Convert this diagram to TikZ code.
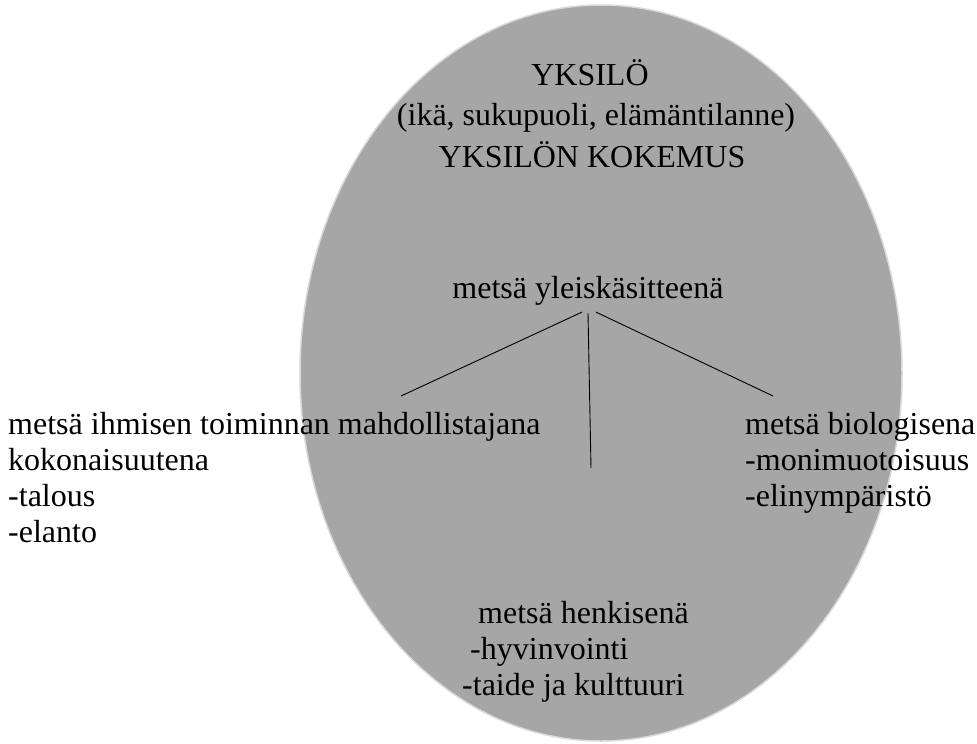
\documentclass[tikz,border=0pt]{standalone}
\usepackage{fontspec}
\setmainfont{Liberation Serif}
\usetikzlibrary{positioning}
\definecolor{ovalgray}{HTML}{A6A6A6}
\definecolor{ovalrim}{HTML}{D9D9D9}

\begin{document}
\begin{tikzpicture}[x=1pt, y=-1pt,
		txt/.style={inner sep=0pt, font=\fontsize{32}{35.7}\selectfont},
		blk/.style={txt, align=left, anchor=base west}]
			\useasboundingbox (0,0) rectangle (977,744);
			\filldraw [fill=ovalgray, draw=ovalrim, line width=1.5pt]
				(601,373) ellipse [x radius=301, y radius=368];
			% yksilo
			\node (yksilo) [txt, anchor=base] at (590,85) {YKSILÖ};
			\node (tausta) [txt, anchor=base] at (596,125) {(ikä, sukupuoli, elämäntilanne)};
			\node (kokemus) [txt, anchor=base] at (592,167) {YKSILÖN KOKEMUS};
			% metsa (base = last line)
			\node (yleis) [txt, anchor=base] at (588,298) {metsä yleiskäsitteenä};
			\node (ihminen) [blk] at (8,542) {metsä ihmisen toiminnan mahdollistajana\\kokonaisuutena\\-talous\\-elanto};
			\node (bio) [blk] at (745,506) {metsä biologisena\\-monimuotoisuus\\-elinympäristö};
			\node (henki) [blk] at (462,695) {\hspace*{16pt}metsä henkisenä\\\hspace*{8pt}-hyvinvointi\\-taide ja kulttuuri};
			\coordinate (ihmEnd) at (401,396);
			\coordinate (bioEnd) at (773,396);
			\coordinate (henkEnd) at (591,468);
			\draw [line width=0.9pt] ([xshift=-6pt, yshift=-7pt]yleis.south) -- (ihmEnd);
			\draw [line width=0.9pt] ([yshift=-8pt]yleis.south) -- (henkEnd);
			\draw [line width=0.9pt] ([xshift=8pt, yshift=-7pt]yleis.south) -- (bioEnd);
		\end{tikzpicture}
\end{document}
